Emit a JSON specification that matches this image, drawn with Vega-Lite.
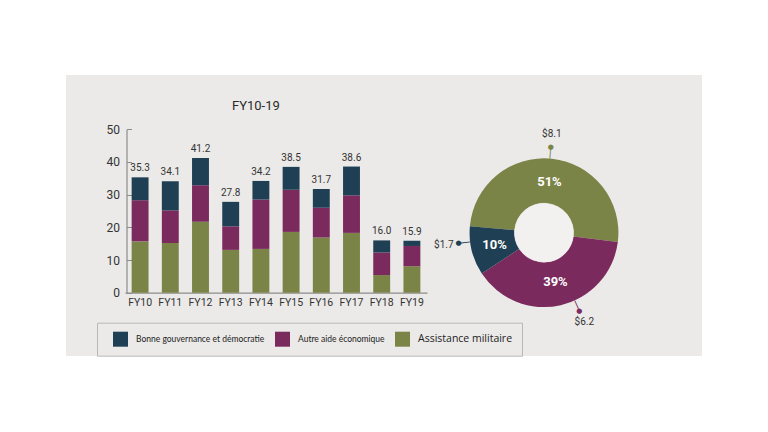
{
  "$schema": "https://vega.github.io/schema/vega-lite/v6.json",
  "width": 636,
  "height": 281,
  "autosize": {"type": "none"},
  "padding": {"left": 66, "top": 75, "right": 66, "bottom": 76},
  "background": "#ffffff",
  "view": {"fill": "#ebeae8", "stroke": null},
  "title": {"text": "FY10-19", "anchor": "start", "frame": "group", "dx": 166, "offset": -48, "baseline": "alphabetic", "fontSize": 13, "fontWeight": "normal", "color": "#2a2a2a", "font": "Roboto"},
  "datasets": {
    "bars": [
      {"fy": "FY10", "cat": "Assistance militaire", "value": 15.7},
      {"fy": "FY10", "cat": "Autre aide économique", "value": 12.6},
      {"fy": "FY10", "cat": "Bonne gouvernance et démocratie", "value": 7.0},
      {"fy": "FY11", "cat": "Assistance militaire", "value": 15.2},
      {"fy": "FY11", "cat": "Autre aide économique", "value": 10.0},
      {"fy": "FY11", "cat": "Bonne gouvernance et démocratie", "value": 8.9},
      {"fy": "FY12", "cat": "Assistance militaire", "value": 21.7},
      {"fy": "FY12", "cat": "Autre aide économique", "value": 11.2},
      {"fy": "FY12", "cat": "Bonne gouvernance et démocratie", "value": 8.3},
      {"fy": "FY13", "cat": "Assistance militaire", "value": 13.1},
      {"fy": "FY13", "cat": "Autre aide économique", "value": 7.2},
      {"fy": "FY13", "cat": "Bonne gouvernance et démocratie", "value": 7.5},
      {"fy": "FY14", "cat": "Assistance militaire", "value": 13.4},
      {"fy": "FY14", "cat": "Autre aide économique", "value": 15.1},
      {"fy": "FY14", "cat": "Bonne gouvernance et démocratie", "value": 5.7},
      {"fy": "FY15", "cat": "Assistance militaire", "value": 18.6},
      {"fy": "FY15", "cat": "Autre aide économique", "value": 12.9},
      {"fy": "FY15", "cat": "Bonne gouvernance et démocratie", "value": 7.0},
      {"fy": "FY16", "cat": "Assistance militaire", "value": 16.9},
      {"fy": "FY16", "cat": "Autre aide économique", "value": 9.1},
      {"fy": "FY16", "cat": "Bonne gouvernance et démocratie", "value": 5.7},
      {"fy": "FY17", "cat": "Assistance militaire", "value": 18.3},
      {"fy": "FY17", "cat": "Autre aide économique", "value": 11.5},
      {"fy": "FY17", "cat": "Bonne gouvernance et démocratie", "value": 8.8},
      {"fy": "FY18", "cat": "Assistance militaire", "value": 5.4},
      {"fy": "FY18", "cat": "Autre aide économique", "value": 6.9},
      {"fy": "FY18", "cat": "Bonne gouvernance et démocratie", "value": 3.7},
      {"fy": "FY19", "cat": "Assistance militaire", "value": 8.1},
      {"fy": "FY19", "cat": "Autre aide économique", "value": 6.2},
      {"fy": "FY19", "cat": "Bonne gouvernance et démocratie", "value": 1.6}
    ],
    "totals": [
      {"fy": "FY10", "total": 35.3},
      {"fy": "FY11", "total": 34.1},
      {"fy": "FY12", "total": 41.2},
      {"fy": "FY13", "total": 27.8},
      {"fy": "FY14", "total": 34.2},
      {"fy": "FY15", "total": 38.5},
      {"fy": "FY16", "total": 31.7},
      {"fy": "FY17", "total": 38.6},
      {"fy": "FY18", "total": 16.0},
      {"fy": "FY19", "total": 15.9}
    ],
    "donut": [
      {"cat": "Assistance militaire", "value": 8.1, "pct": "51%", "amount": "$8.1"},
      {"cat": "Autre aide économique", "value": 6.2, "pct": "39%", "amount": "$6.2"},
      {"cat": "Bonne gouvernance et démocratie", "value": 1.7, "pct": "10%", "amount": "$1.7"}
    ]
  },
  "layer": [
    {
      "layer": [
        {
          "data": {"name": "bars"},
          "mark": {"type": "bar"},
          "encoding": {
            "x": {"field": "fy", "type": "nominal", "sort": null,
                  "scale": {"range": [59, 361], "paddingInner": 0.44, "paddingOuter": 0.22},
                  "axis": {"title": null, "orient": "bottom", "offset": -63.3, "labelAngle": 0, "ticks": false, "labelPadding": 5, "labelFontSize": 10.5, "labelColor": "#333333", "domainColor": "#8c8c8c", "domainWidth": 1.2}},
            "y": {"field": "value", "type": "quantitative", "stack": true,
                  "scale": {"domain": [0, 50], "range": [217.7, 54.3], "nice": false, "zero": true},
                  "axis": {"title": null, "orient": "left", "offset": -60.5, "values": [0, 10, 20, 30, 40, 50], "grid": false, "tickSize": -5, "tickColor": "#8c8c8c", "labelPadding": 12, "labelFontSize": 12, "labelColor": "#333333", "domainColor": "#8c8c8c", "domainWidth": 1.2}},
            "order": {"field": "cat", "sort": "ascending"},
            "color": {"field": "cat", "type": "nominal",
                      "scale": {"domain": ["Bonne gouvernance et démocratie", "Autre aide économique", "Assistance militaire"], "range": ["#1f3f54", "#7a2a5d", "#7b8447"]},
                      "legend": {"orient": "none", "legendX": 31, "legendY": 247.7, "direction": "horizontal", "title": null,
                                 "symbolType": "square", "symbolSize": 225, "symbolStrokeWidth": 0, "symbolOffset": 7,
                                 "columnPadding": 3, "labelOffset": 8, "padding": 9, "strokeColor": "#b9b8b6",
                                 "labelFont": "Lato", "labelFontSize": 8.5, "labelColor": "#222222", "labelLimit": 300,
                                 "encode": {"labels": {"update": {
                                   "fontSize": {"signal": "datum.value === 'Assistance militaire' ? 10.5 : 8.5"},
                                   "font": {"signal": "datum.value === 'Assistance militaire' ? 'Open Sans' : 'Lato'"}}}}}}
          }
        },
        {
          "data": {"name": "totals"},
          "mark": {"type": "text", "baseline": "bottom", "dy": -4, "fontSize": 10, "color": "#333333", "font": "Roboto"},
          "encoding": {
            "x": {"field": "fy", "type": "nominal", "sort": null},
            "y": {"field": "total", "type": "quantitative"},
            "text": {"field": "total", "type": "quantitative", "format": ".1f"}
          }
        }
      ]
    },
    {
      "data": {"name": "donut"},
      "encoding": {
        "x": {"datum": 0, "type": "quantitative", "scale": {"domain": [-1, 1], "range": [378, 578]}, "axis": null},
        "y": {"datum": 0, "type": "quantitative", "scale": {"domain": [-1, 1], "range": [257.7, 57.7]}, "axis": null},
        "theta": {"field": "value", "type": "quantitative", "stack": true, "scale": {"range": [-1.4835, 4.7997]}},
        "order": {"field": "cat", "sort": "ascending"}
      },
      "layer": [
        {
          "mark": {"type": "arc", "innerRadius": 29.5, "outerRadius": 74.4},
          "encoding": {"color": {"field": "cat", "type": "nominal"}}
        },
        {
          "mark": {"type": "arc", "innerRadius": 0, "outerRadius": 29.5, "fill": "#f2f1f0", "stroke": "#f2f1f0", "strokeWidth": 0.5},
          "encoding": {"detail": {"field": "cat"}}
        },
        {
          "mark": {"type": "text", "radius": 51, "fill": "#ffffff", "fontSize": 13, "fontWeight": "bold", "font": "Roboto", "align": "center", "baseline": "middle"},
          "encoding": {"detail": {"field": "cat"}, "text": {"field": "pct"}}
        },
        {
          "mark": {"type": "text", "radius": 99, "thetaOffset": -0.028, "fill": "#333333", "fontSize": 10, "font": "Roboto", "align": "center", "baseline": "middle"},
          "encoding": {"detail": {"field": "cat"}, "text": {"field": "amount"},
                       "opacity": {"condition": {"test": "datum.cat === 'Assistance militaire'", "value": 1}, "value": 0}}
        },
        {
          "mark": {"type": "text", "radius": 98, "thetaOffset": -0.197, "fill": "#333333", "fontSize": 10, "font": "Roboto", "align": "center", "baseline": "middle"},
          "encoding": {"detail": {"field": "cat"}, "text": {"field": "amount"},
                       "opacity": {"condition": {"test": "datum.cat === 'Autre aide économique'", "value": 1}, "value": 0}}
        },
        {
          "mark": {"type": "text", "radius": 101, "thetaOffset": 0.124, "fill": "#333333", "fontSize": 10, "font": "Roboto", "align": "center", "baseline": "middle"},
          "encoding": {"detail": {"field": "cat"}, "text": {"field": "amount"},
                       "opacity": {"condition": {"test": "datum.cat === 'Bonne gouvernance et démocratie'", "value": 1}, "value": 0}}
        },
        {
          "mark": {"type": "text", "radius": 86, "thetaOffset": -0.028, "text": "●", "fill": "#7b8447", "fontSize": 7, "font": "DejaVu Sans", "align": "center", "baseline": "middle"},
          "encoding": {"detail": {"field": "cat"},
                       "opacity": {"condition": {"test": "datum.cat === 'Assistance militaire'", "value": 1}, "value": 0}}
        },
        {
          "mark": {"type": "text", "radius": 86, "thetaOffset": -0.197, "text": "●", "fill": "#7a2a5d", "fontSize": 7, "font": "DejaVu Sans", "align": "center", "baseline": "middle"},
          "encoding": {"detail": {"field": "cat"},
                       "opacity": {"condition": {"test": "datum.cat === 'Autre aide économique'", "value": 1}, "value": 0}}
        },
        {
          "mark": {"type": "text", "radius": 86, "thetaOffset": 0.124, "text": "●", "fill": "#1f3f54", "fontSize": 7, "font": "DejaVu Sans", "align": "center", "baseline": "middle"},
          "encoding": {"detail": {"field": "cat"},
                       "opacity": {"condition": {"test": "datum.cat === 'Bonne gouvernance et démocratie'", "value": 1}, "value": 0}}
        },
        {
          "mark": {"type": "text", "radius": 80, "thetaOffset": -0.028, "angle": 4.5, "text": "│", "fill": "#7b8447", "fontSize": 11, "font": "DejaVu Sans", "align": "center", "baseline": "middle"},
          "encoding": {"detail": {"field": "cat"},
                       "opacity": {"condition": {"test": "datum.cat === 'Assistance militaire'", "value": 1}, "value": 0}}
        },
        {
          "mark": {"type": "text", "radius": 80, "thetaOffset": -0.197, "angle": 155.7, "text": "│", "fill": "#7a2a5d", "fontSize": 11, "font": "DejaVu Sans", "align": "center", "baseline": "middle"},
          "encoding": {"detail": {"field": "cat"},
                       "opacity": {"condition": {"test": "datum.cat === 'Autre aide économique'", "value": 1}, "value": 0}}
        },
        {
          "mark": {"type": "text", "radius": 80, "thetaOffset": 0.124, "angle": 263, "text": "│", "fill": "#1f3f54", "fontSize": 11, "font": "DejaVu Sans", "align": "center", "baseline": "middle"},
          "encoding": {"detail": {"field": "cat"},
                       "opacity": {"condition": {"test": "datum.cat === 'Bonne gouvernance et démocratie'", "value": 1}, "value": 0}}
        }
      ]
    }
  ],
  "resolve": {"scale": {"x": "independent", "y": "independent"}},
  "config": {
    "font": "Roboto",
    "axis": {"labelFont": "Roboto"}
  }
}
